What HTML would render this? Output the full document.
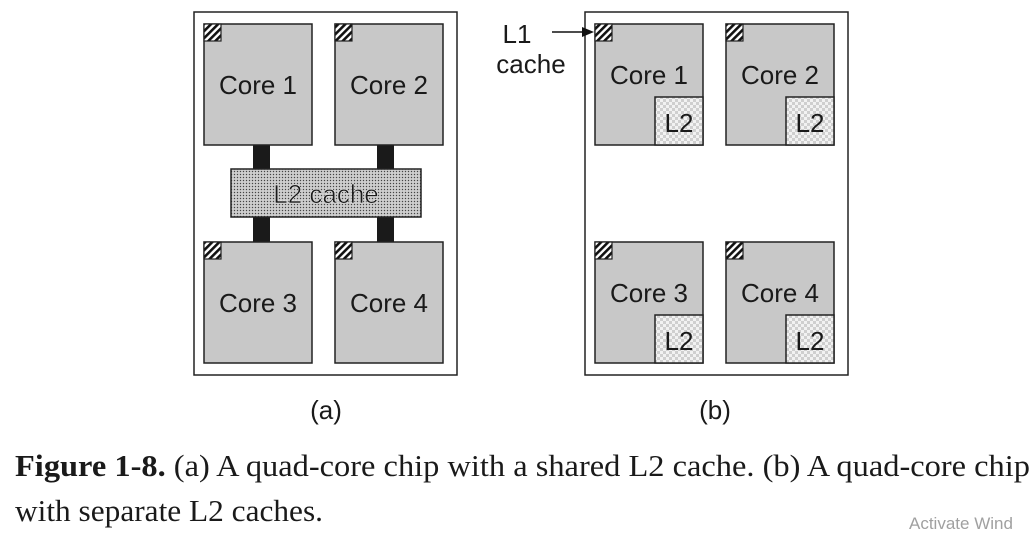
<!DOCTYPE html>
<html><head><meta charset="utf-8"><style>
html,body{margin:0;padding:0;background:#fff;width:1035px;height:544px;overflow:hidden}
svg{display:block}
text{font-family:"Liberation Sans",sans-serif;fill:#1a1a1a}
</style></head><body>
<svg width="1035" height="544" viewBox="0 0 1035 544">
<defs>
<pattern id="hatch" width="5" height="5" patternUnits="userSpaceOnUse" patternTransform="rotate(45)">
<rect width="5" height="5" fill="#fff"/><rect width="2.6" height="5" fill="#111"/></pattern>
<pattern id="dots" width="3" height="3" patternUnits="userSpaceOnUse">
<rect width="3" height="3" fill="#bdbdbd"/><rect width="1" height="1" fill="#444"/><rect x="1.5" y="1.5" width="1" height="1" fill="#fff"/></pattern>
<pattern id="check" width="6" height="6" patternUnits="userSpaceOnUse">
<rect width="6" height="6" fill="#f2f2f2"/><rect width="3" height="3" fill="#cfcfcf"/><rect x="3" y="3" width="3" height="3" fill="#cfcfcf"/></pattern>
</defs>

<!-- (a) -->
<g>
<rect x="194" y="12" width="263" height="363" fill="#fff" stroke="#222" stroke-width="1.5"/>
<rect x="253" y="144" width="17" height="100" fill="#1a1a1a"/>
<rect x="377" y="144" width="17" height="100" fill="#1a1a1a"/>
<g><rect x="204" y="24" width="108" height="121" fill="#c8c8c8" stroke="#222" stroke-width="1.5"/><rect x="204" y="24" width="17" height="17" fill="url(#hatch)" stroke="#222" stroke-width="1.2"/><text x="258" y="94" font-size="26" text-anchor="middle">Core 1</text></g>
<g><rect x="335" y="24" width="108" height="121" fill="#c8c8c8" stroke="#222" stroke-width="1.5"/><rect x="335" y="24" width="17" height="17" fill="url(#hatch)" stroke="#222" stroke-width="1.2"/><text x="389" y="94" font-size="26" text-anchor="middle">Core 2</text></g>
<g><rect x="204" y="242" width="108" height="121" fill="#c8c8c8" stroke="#222" stroke-width="1.5"/><rect x="204" y="242" width="17" height="17" fill="url(#hatch)" stroke="#222" stroke-width="1.2"/><text x="258" y="312" font-size="26" text-anchor="middle">Core 3</text></g>
<g><rect x="335" y="242" width="108" height="121" fill="#c8c8c8" stroke="#222" stroke-width="1.5"/><rect x="335" y="242" width="17" height="17" fill="url(#hatch)" stroke="#222" stroke-width="1.2"/><text x="389" y="312" font-size="26" text-anchor="middle">Core 4</text></g>
<g><rect x="231" y="169" width="190" height="48" fill="url(#dots)" stroke="#222" stroke-width="1.5"/><text x="326" y="203" font-size="26" text-anchor="middle" fill="#222" stroke="#eee" stroke-width="0.5">L2 cache</text></g>
<text x="326" y="419" font-size="26" text-anchor="middle">(a)</text>
</g>

<!-- (b) -->
<g>
<rect x="585" y="12" width="263" height="363" fill="#fff" stroke="#222" stroke-width="1.5"/>
<g><rect x="595" y="24" width="108" height="121" fill="#c8c8c8" stroke="#222" stroke-width="1.5"/><rect x="595" y="24" width="17" height="17" fill="url(#hatch)" stroke="#222" stroke-width="1.2"/><text x="649" y="84" font-size="26" text-anchor="middle">Core 1</text><rect x="655" y="97" width="48" height="48" fill="url(#check)" stroke="#222" stroke-width="1.5"/><text x="679" y="132" font-size="26" text-anchor="middle">L2</text></g>
<g><rect x="726" y="24" width="108" height="121" fill="#c8c8c8" stroke="#222" stroke-width="1.5"/><rect x="726" y="24" width="17" height="17" fill="url(#hatch)" stroke="#222" stroke-width="1.2"/><text x="780" y="84" font-size="26" text-anchor="middle">Core 2</text><rect x="786" y="97" width="48" height="48" fill="url(#check)" stroke="#222" stroke-width="1.5"/><text x="810" y="132" font-size="26" text-anchor="middle">L2</text></g>
<g><rect x="595" y="242" width="108" height="121" fill="#c8c8c8" stroke="#222" stroke-width="1.5"/><rect x="595" y="242" width="17" height="17" fill="url(#hatch)" stroke="#222" stroke-width="1.2"/><text x="649" y="302" font-size="26" text-anchor="middle">Core 3</text><rect x="655" y="315" width="48" height="48" fill="url(#check)" stroke="#222" stroke-width="1.5"/><text x="679" y="350" font-size="26" text-anchor="middle">L2</text></g>
<g><rect x="726" y="242" width="108" height="121" fill="#c8c8c8" stroke="#222" stroke-width="1.5"/><rect x="726" y="242" width="17" height="17" fill="url(#hatch)" stroke="#222" stroke-width="1.2"/><text x="780" y="302" font-size="26" text-anchor="middle">Core 4</text><rect x="786" y="315" width="48" height="48" fill="url(#check)" stroke="#222" stroke-width="1.5"/><text x="810" y="350" font-size="26" text-anchor="middle">L2</text></g>
<g>
<text x="517" y="43" font-size="26" text-anchor="middle">L1</text>
<text x="531" y="73" font-size="26" text-anchor="middle">cache</text>
<line x1="552" y1="32" x2="586" y2="32" stroke="#111" stroke-width="1.6"/>
<polygon points="594,32 582,27 582,37" fill="#111"/>
</g>
<text x="715" y="419" font-size="26" text-anchor="middle">(b)</text>
</g>

<!-- caption -->
<g>
<text x="15" y="476" font-size="31" textLength="1015" lengthAdjust="spacingAndGlyphs" style="font-family:'Liberation Serif',serif"><tspan font-weight="bold">Figure 1-8.</tspan> (a) A quad-core chip with a shared L2 cache.  (b) A quad-core chip</text>
<text x="15" y="521" font-size="31" textLength="308" lengthAdjust="spacingAndGlyphs" style="font-family:'Liberation Serif',serif">with separate L2 caches.</text>
</g>
<text x="909" y="529" font-size="17" style="fill:#a0a0a0">Activate Wind</text>
</svg>
</body></html>
